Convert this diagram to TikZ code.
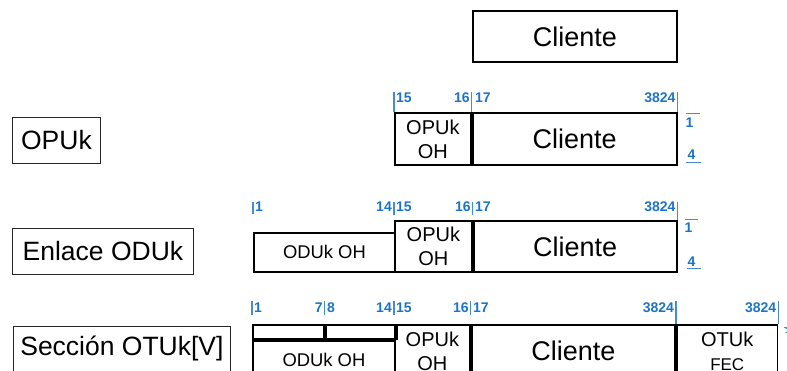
\documentclass[tikz,border=0pt]{standalone}
\usepackage{fontspec}
\setmainfont{Liberation Sans}
\definecolor{numblue}{RGB}{28,116,198}
\definecolor{tickblue}{RGB}{70,140,210}

\begin{document}
\begin{tikzpicture}[x=1pt, y=-1pt,
    lblbox/.style={draw=black!85, line width=0.9pt, inner sep=0pt, anchor=north west, font=\fontsize{26.5}{30}\selectfont},
    fld/.style={draw, line width=1.8pt, inner sep=0pt, anchor=north west, align=center},
    bigtxt/.style={font=\fontsize{27}{30}\selectfont},
    ohtxt/.style={font=\fontsize{20}{24}\selectfont},
    tick/.style={tickblue, line width=1.3pt},
    num/.style={text=numblue, inner sep=0pt, font=\fontsize{14}{14}\selectfont\bfseries}]
    \useasboundingbox (0,0) rectangle (787,371);

    % Draw client box
    \node[fld, bigtxt, minimum width=204, minimum height=51] (cli) at (472,10) {Cliente};

    % Draw labels on the left
    \node[lblbox, minimum width=88, minimum height=46] (lopu) at (12,117) {OPUk};
    \node[lblbox, minimum width=181, minimum height=46] (lodu) at (12,228) {Enlace ODUk};
    \node[lblbox, minimum width=217, minimum height=60, text height=19pt, text depth=21pt] (lotu) at (13,326) {Sección OTUk[V]};

    % Row OPUk
    \node[fld, ohtxt, minimum width=76, minimum height=52] (aop) at (394,112) {OPUk\\OH};
    \node[fld, bigtxt, minimum width=204, minimum height=52] (acli) at (aop.north east) {Cliente};
    \draw[tick] ([yshift=20]aop.north west) -- (aop.north west);
    \draw[tick] ([yshift=20]aop.north east) -- (aop.north east);
    \draw[tick] ([yshift=20]acli.north east) -- (acli.north east);
    \node[num, anchor=west] (a15) at ([xshift=2, yshift=14]aop.north west) {15};
    \node[num, anchor=east] (a16) at ([xshift=-2, yshift=14]aop.north east) {16};
    \node[num, anchor=west] (a17) at ([xshift=3, yshift=14]aop.north east) {17};
    \node[num, anchor=east] (a3824) at ([xshift=-2, yshift=14]acli.north east) {3824};
    \node[num] (ar1) at ([xshift=12, yshift=-11]acli.north east) {1};
    \node[num] (ar4) at ([xshift=14, yshift=-43]acli.north east) {4};
    \draw[tick, line width=1pt] ([xshift=8, yshift=-2]acli.north east) -- ++(14,0);
    \draw[tick, line width=1pt] ([xshift=8, yshift=-51]acli.north east) -- ++(15,0);

    % Row Enlace ODUk
    \node[fld, font=\fontsize{18.4}{22}\selectfont, minimum width=141, minimum height=39] (boh) at (253,232) {ODUk OH};
    \node[fld, ohtxt, minimum width=77, minimum height=51] (bop) at (394,220) {OPUk\\OH};
    \node[fld, bigtxt, minimum width=203, minimum height=51] (bcli) at (bop.north east) {Cliente};
    \draw[tick] ([yshift=30]boh.north west) -- ([yshift=18]boh.north west);
    \draw[tick] ([yshift=18]bop.north west) -- ([yshift=5]bop.north west);
    \draw[tick] ([yshift=18]bop.north east) -- ([yshift=5]bop.north east);
    \draw[tick] ([yshift=18]bcli.north east) -- (bcli.north east);
    \node[num, anchor=west] (b1) at ([xshift=2, yshift=25]boh.north west) {1};
    \node[num, anchor=east] (b14) at ([xshift=-2, yshift=13]bop.north west) {14};
    \node[num, anchor=west] (b15) at ([xshift=2, yshift=13]bop.north west) {15};
    \node[num, anchor=east] (b16) at ([xshift=-2, yshift=13]bop.north east) {16};
    \node[num, anchor=west] (b17) at ([xshift=2, yshift=13]bop.north east) {17};
    \node[num, anchor=east] (b3824) at ([xshift=-2, yshift=13]bcli.north east) {3824};
    \node[num] (br1) at ([xshift=11, yshift=-8]bcli.north east) {1};
    \node[num] (br4) at ([xshift=14, yshift=-42]bcli.north east) {4};
    \draw[tick, line width=1pt] ([xshift=7, yshift=0]bcli.north east) -- ++(13,0);
    \draw[tick, line width=1pt] ([xshift=9, yshift=-49]bcli.north east) -- ++(14,0);

    % Row Seccion OTUk
    \node[fld, minimum width=71, minimum height=14] (cs1) at (252,324) {};
    \node[fld, minimum width=71, minimum height=14] (cs2) at (cs1.north east) {};
    \node[fld, font=\fontsize{18.4}{22}\selectfont, minimum width=142, minimum height=38] (coh) at (cs1.south west) {ODUk OH};
    \node[fld, ohtxt, minimum width=75, minimum height=52] (cop) at (394,324) {OPUk\\OH};
    \node[fld, bigtxt, minimum width=203.5, minimum height=52] (ccli) at (cop.north east) {Cliente};
    \node[fld, font=\fontsize{17}{24}\selectfont, minimum width=100.5, minimum height=52] (cfec) at (ccli.north east) {{\fontsize{20}{24}\selectfont OTUk}\\FEC};
    \draw[tick] ([yshift=23]cs1.north west) -- ([yshift=9]cs1.north west);
    \draw[tick] ([yshift=23]cs1.north east) -- ([yshift=9]cs1.north east);
    \draw[tick] ([yshift=23]cop.north west) -- ([yshift=9]cop.north west);
    \draw[tick] ([yshift=23]cop.north east) -- ([yshift=9]cop.north east);
    \draw[tick] ([yshift=23]ccli.north east) -- (ccli.north east);
    \draw[tick] ([yshift=23]cfec.north east) -- (cfec.north east);
    \node[num, anchor=west] (c1) at ([xshift=2, yshift=16]cs1.north west) {1};
    \node[num, anchor=east] (c7) at ([xshift=-2, yshift=16]cs1.north east) {7};
    \node[num, anchor=west] (c8) at ([xshift=2, yshift=16]cs1.north east) {8};
    \node[num, anchor=east] (c14) at ([xshift=-2, yshift=16]cop.north west) {14};
    \node[num, anchor=west] (c15) at ([xshift=2, yshift=16]cop.north west) {15};
    \node[num, anchor=east] (c16) at ([xshift=-2, yshift=16]cop.north east) {16};
    \node[num, anchor=west] (c17) at ([xshift=2, yshift=16]cop.north east) {17};
    \node[num, anchor=east] (c3824) at ([xshift=-2, yshift=16]ccli.north east) {3824};
    \node[num, anchor=east] (cf3824) at ([xshift=-2, yshift=16]cfec.north east) {3824};
    \node[num, font=\fontsize{8}{8}\selectfont\bfseries] (cr1) at ([xshift=9, yshift=-7]cfec.north east) {1};
    \draw[tick, line width=0.7pt] ([xshift=6, yshift=-3]cfec.north east) -- ++(7,0);
\end{tikzpicture}
\end{document}
